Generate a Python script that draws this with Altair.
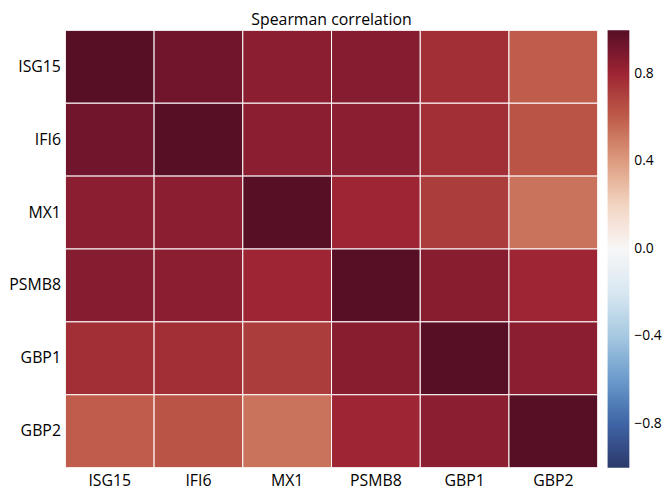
import altair as alt
import pandas as pd

genes = ["ISG15", "IFI6", "MX1", "PSMB8", "GBP1", "GBP2"]

row_isg15 = [1.00, 0.93, 0.85, 0.87, 0.77, 0.60]
row_ifi6  = [0.93, 1.00, 0.85, 0.85, 0.77, 0.63]
row_mx1   = [0.85, 0.85, 1.00, 0.80, 0.72, 0.53]
row_psmb8 = [0.87, 0.85, 0.80, 1.00, 0.86, 0.80]
row_gbp1  = [0.77, 0.77, 0.72, 0.86, 1.00, 0.85]
row_gbp2  = [0.60, 0.63, 0.53, 0.80, 0.85, 1.00]
matrix = [row_isg15, row_ifi6, row_mx1, row_psmb8, row_gbp1, row_gbp2]

legend_ticks = [-0.8, -0.4, 0.0, 0.4, 0.8]
color_stops = [-1.0, -0.8, -0.6, -0.4, -0.2, 0.0, 0.2, 0.4, 0.6, 0.8, 1.0]
color_values = ["#2b3a6b", "#3f64a5", "#6b9acb", "#a6c8e1", "#d8e7f1", "#f7f7f7",
                "#f3d5c3", "#dd9c80", "#bf5c4b", "#9e2533", "#570f25"]

records = []
for i, rg in enumerate(genes):
    for j, cg in enumerate(genes):
        records.append({"row": rg, "col": cg, "value": matrix[i][j]})
df = pd.DataFrame(records)

FONT = "Open Sans"

chart = alt.Chart(df).mark_rect(stroke="white", strokeWidth=1).encode(
    x=alt.X("col:N", sort=genes, title=None,
            axis=alt.Axis(labelAngle=0, domain=False, ticks=False, labelPadding=5,
                          labelFontSize=16, labelFont=FONT, labelColor="#000")),
    y=alt.Y("row:N", sort=genes, title=None,
            axis=alt.Axis(domain=False, ticks=False, labelPadding=5,
                          labelFontSize=16, labelFont=FONT, labelColor="#000")),
    color=alt.Color("value:Q",
                    scale=alt.Scale(domain=color_stops, range=color_values, clamp=True),
                    legend=alt.Legend(title=None, type="gradient", values=legend_ticks,
                                      format=".1f", gradientLength=442, gradientThickness=22,
                                      gradientStrokeWidth=0, labelFontSize=14,
                                      labelFont=FONT, labelColor="#000", labelOffset=5,
                                      offset=10, orient="right")),
).properties(
    width=538,
    height=442,
    title=alt.Title("Spearman correlation", fontSize=16, fontWeight="normal",
                    font=FONT, color="#000", offset=2),
    padding={"left": 0, "top": 1, "right": 0, "bottom": 0},
).configure_view(stroke=None)

chart.save("out.html", embed_options={"renderer": "svg", "actions": False})
